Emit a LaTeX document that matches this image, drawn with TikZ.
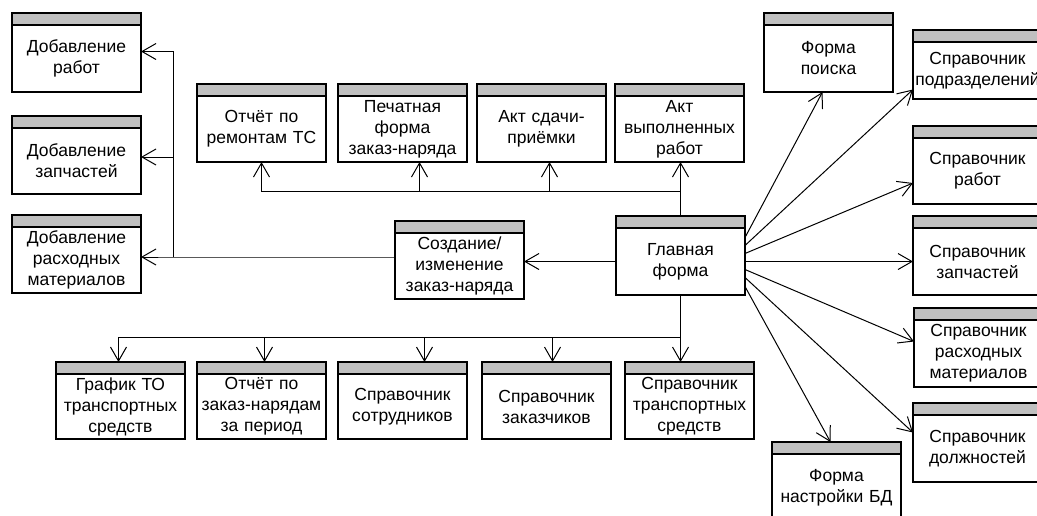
\documentclass[tikz,border=0pt]{standalone}
\usepackage{fontspec}
\setmainfont{Liberation Sans}
\usepackage{xcolor}
\usepackage{tikz}
\usetikzlibrary{arrows.meta, positioning}
\definecolor{hdrgray}{RGB}{192,192,192}

\begin{document}
\begin{tikzpicture}[x=1pt, y=-1pt, >={Straight Barb[length=14pt, width=16pt]}, line width=1pt,
    hdr/.style={draw, line width=1.5pt, fill=hdrgray, minimum width=129pt, minimum height=12pt, inner sep=0pt, outer sep=0pt},
    frm/.style={draw, line width=1.5pt, text width=127pt, inner xsep=1pt, inner ysep=0pt, outer sep=0pt, align=center,
        font=\fontsize{17.5}{21}\selectfont}]
    \useasboundingbox (0,0) rectangle (1037,515);

    % Окна: шапка + тело
    \foreach \n/\x/\y/\h/\t in {
        dr/12/13/67/{Добавление\\работ},
        dz/12/116/66/{Добавление\\запчастей},
        dm/12/215/66/{Добавление\\расходных\\материалов},
        ort/197/84/66/{Отчёт по\\ремонтам ТС},
        pf/338/84/66/{Печатная\\форма\\заказ-наряда},
        asp/477/84/66/{Акт сдачи-\\приёмки},
        avr/615/84/66/{Акт\\выполненных\\работ},
        sz/395/221/66/{Создание/\\изменение\\заказ-наряда},
        gf/616/216/67/{Главная\\форма},
        gto/56/362/65/{График ТО\\транспортных\\средств},
        oz/197/362/65/{Отчёт по\\заказ-нарядам\\за период},
        ss/338/362/65/{Справочник\\сотрудников},
        szk/482/362/65/{Справочник\\заказчиков},
        sts/625/362/65/{Справочник\\транспортных\\средств},
        fp/764/13/67/{Форма\\поиска},
        spd/913/30/57/{Справочник\\подразделений},
        spr/913/126/66/{Справочник\\работ},
        szp/913/216/67/{Справочник\\запчастей},
        srm/914/308/67/{Справочник\\расходных\\материалов},
        sdl/913/403/67/{Справочник\\должностей},
        fn/772/442/67/{Форма\\настройки БД}}
    {
        \node[hdr, anchor=north west] (\n-h) at (\x,\y) {};
        \node[frm, minimum height=\h pt, below=0pt of \n-h] (\n) {\t};
    }

    % Отчёты сверху
    \draw[->] (gf-h.north) -- ++(0,-25) coordinate (tl) -| (ort.south);
    \draw[->] ([xshift=17pt]pf.south |- tl) -- ([xshift=17pt]pf.south);
    \draw[->] ([xshift=8pt]asp.south |- tl) -- ([xshift=8pt]asp.south);
    \draw[->] (tl) -- (tl |- avr.south);

    % Заказ-наряд и добавление
    \draw[->] (gf.west) -- (gf.west -| sz.east);
    \coordinate (lv) at (173,257);
    \draw[->] ([yshift=9pt]sz.west) -- (lv) -- (lv -| dm.east);
    \draw[->] (lv) |- ([yshift=7pt]dr.east);
    \draw[->] ([yshift=4pt]dz.east -| lv) -- ([yshift=4pt]dz.east);

    % Справочники снизу
    \draw[->] (gf.south) -- ++(0,42) coordinate (bl) -| ([xshift=-2pt]gto-h.north);
    \draw[->] (bl) -- (bl |- sts-h.north);
    \draw[->] ([xshift=3pt]oz-h.north |- bl) -- ([xshift=3pt]oz-h.north);
    \draw[->] ([xshift=22pt]ss-h.north |- bl) -- ([xshift=22pt]ss-h.north);
    \draw[->] ([xshift=6pt]szk-h.north |- bl) -- ([xshift=6pt]szk-h.north);

    % Справочники справа
    \draw[->] ([yshift=24pt]gf.east) -- ([xshift=-6pt]fp.south);
    \draw[->] ([yshift=16pt]gf.east) -- ([yshift=-19pt]spd.west);
    \draw[->] ([yshift=8pt]gf.east) -- ([yshift=-12pt]spr.west);
    \draw[->] (gf.east) -- (gf.east -| szp.west);
    \draw[->] ([yshift=-8pt]gf.east) -- ([yshift=12pt]srm.west);
    \draw[->] ([yshift=-16pt]gf.east) -- ([yshift=16pt]sdl.west);
    \draw[->] ([yshift=-25pt]gf.east) -- ([xshift=-6pt]fn-h.north);
\end{tikzpicture}
\end{document}
